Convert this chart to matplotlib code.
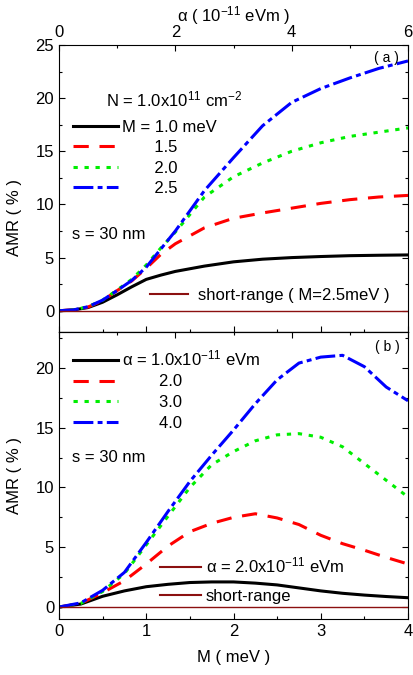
import numpy as np
import matplotlib
matplotlib.use('Agg')
import matplotlib.pyplot as plt
from matplotlib.ticker import MultipleLocator, NullFormatter
from matplotlib.lines import Line2D

#fonte parecida com Arial
plt.rcParams['font.family'] = ['Liberation Sans', 'DejaVu Sans']
plt.rcParams['mathtext.fontset'] = 'custom'
plt.rcParams['mathtext.rm'] = 'Liberation Sans'
plt.rcParams['mathtext.it'] = 'Liberation Sans:italic'
plt.rcParams['font.size'] = 12

#Painel (a): AMR x alpha para varios M
alpha_a = [0, 0.25, 0.5, 0.75, 1.0, 1.25, 1.5, 1.75, 2.0, 2.5, 3.0, 3.5, 4.0, 4.5, 5.0, 5.5, 6.0]
amr_m10 = [0, 0.08, 0.3, 0.8, 1.5, 2.25, 2.95, 3.35, 3.7, 4.2, 4.6, 4.85, 5.0, 5.1, 5.18, 5.22, 5.25]
amr_m15 = [0, 0.08, 0.35, 0.95, 1.9, 2.8, 4.0, 5.3, 6.3, 7.8, 8.7, 9.2, 9.65, 10.1, 10.45, 10.7, 10.85]
amr_m20 = [0, 0.08, 0.38, 1.0, 1.95, 2.95, 4.3, 5.9, 7.4, 10.7, 12.6, 13.9, 15.0, 15.8, 16.4, 16.8, 17.2]
amr_m25 = [0, 0.08, 0.38, 1.0, 1.9, 2.85, 4.1, 5.8, 7.5, 11.3, 14.4, 17.4, 19.6, 20.9, 21.9, 22.8, 23.5]
labels_a = ['M = 1.0 meV', '       1.5', '       2.0', '       2.5']

#Painel (b): AMR x M para varios alpha
m_b = [0, 0.25, 0.5, 0.75, 1.0, 1.25, 1.5, 1.75, 2.0, 2.25, 2.5, 2.75, 3.0, 3.25, 3.5, 3.75, 4.0]
amr_a1 = [0, 0.25, 0.9, 1.35, 1.7, 1.9, 2.05, 2.1, 2.1, 2.0, 1.85, 1.6, 1.35, 1.15, 1.0, 0.88, 0.78]
amr_a2 = [0, 0.3, 1.2, 2.2, 3.6, 5.1, 6.3, 7.0, 7.5, 7.8, 7.45, 6.9, 6.0, 5.3, 4.75, 4.15, 3.6]
amr_a3 = [0, 0.3, 1.3, 2.8, 5.2, 7.6, 10.0, 11.9, 13.0, 13.9, 14.4, 14.5, 14.2, 13.4, 12.0, 10.6, 9.2]
amr_a4 = [0, 0.35, 1.4, 2.9, 5.4, 8.0, 10.5, 12.7, 14.8, 17.0, 19.0, 20.4, 20.9, 21.05, 20.1, 18.4, 17.25]
labels_b = ['α = 1.0x10$^{-11}$ eVm', '        2.0', '        3.0', '        4.0']

#estilos das curvas
cores = ['black', '#ff0000', '#00ee00', '#0000ff']
estilos = ['-', (0, (5, 3.5)), (0, (1.4, 2.2)), (0, (6.5, 1.4, 1.6, 1.4))]
cor_curto = '#8b1010'
lw = 2.2

fig = plt.figure(figsize=(4.13, 6.75), dpi=100)
ax1 = fig.add_axes([59/413, 1-332/675, 349/413, 287/675])
ax2 = fig.add_axes([59/413, 1-619/675, 349/413, 287/675])

#Painel (a)
for y, c, ls, lab in zip([amr_m10, amr_m15, amr_m20, amr_m25], cores, estilos, labels_a):
    ax1.plot(alpha_a, y, color=c, linestyle=ls, lw=lw, label=lab)
ax1.axhline(0, color=cor_curto, lw=1.0)
ax1.set_xlim(0, 6)
ax1.set_ylim(-2, 25)
ax1.xaxis.set_label_position('top')
ax1.set_xlabel('α ( 10$^{-11}$ eVm )', labelpad=3)
ax1.set_ylabel('AMR ( % )')
ax1.yaxis.set_label_coords(-0.105, 0.40)
ax1.xaxis.set_major_locator(MultipleLocator(2))
ax1.xaxis.set_minor_locator(MultipleLocator(1))
ax1.yaxis.set_major_locator(MultipleLocator(5))
ax1.yaxis.set_minor_locator(MultipleLocator(2.5))
ax1.tick_params(which='both', direction='in', top=True, bottom=False, right=True,
                labeltop=True, labelbottom=False)
#eixo de baixo do painel (a) em unidades de M
sec1 = ax1.secondary_xaxis('bottom', functions=(lambda a: a*4/6, lambda m: m*6/4))
sec1.xaxis.set_major_locator(MultipleLocator(1))
sec1.xaxis.set_minor_locator(MultipleLocator(0.5))
sec1.xaxis.set_major_formatter(NullFormatter())
sec1.tick_params(which='both', direction='in')

leg1 = ax1.legend(loc='upper left', bbox_to_anchor=(0.04, 0.74), frameon=False,
                  handlelength=2.7, handletextpad=0.25, borderpad=0, borderaxespad=0,
                  labelspacing=0.33)
ax1.add_artist(leg1)
ax1.legend(handles=[Line2D([], [], color=cor_curto, lw=1.5)],
           labels=['short-range ( M=2.5meV )'], loc='upper left',
           bbox_to_anchor=(0.261, 0.155), frameon=False, handlelength=2.3,
           handletextpad=0.55, borderpad=0, borderaxespad=0)
ax1.text(0.135, 0.812, 'N = 1.0x10$^{11}$ cm$^{-2}$', transform=ax1.transAxes, va='center')
ax1.text(0.037, 0.338, 's = 30 nm', transform=ax1.transAxes, va='center')
ax1.text(0.975, 0.953, '( a )', transform=ax1.transAxes, va='center', ha='right', fontsize=10)

#Painel (b)
for y, c, ls, lab in zip([amr_a1, amr_a2, amr_a3, amr_a4], cores, estilos, labels_b):
    ax2.plot(m_b, y, color=c, linestyle=ls, lw=lw, label=lab)
ax2.axhline(0, color=cor_curto, lw=1.0)
ax2.set_xlim(0, 4)
ax2.set_ylim(-1, 23)
ax2.set_xlabel('M ( meV )', labelpad=8)
ax2.set_ylabel('AMR ( % )')
ax2.yaxis.set_label_coords(-0.105, 0.5)
ax2.xaxis.set_major_locator(MultipleLocator(1))
ax2.xaxis.set_minor_locator(MultipleLocator(0.5))
ax2.yaxis.set_major_locator(MultipleLocator(5))
ax2.yaxis.set_minor_locator(MultipleLocator(2.5))
ax2.tick_params(which='both', direction='in', top=False, right=True)
#eixo de cima do painel (b) em unidades de alpha
sec2 = ax2.secondary_xaxis('top', functions=(lambda m: m*6/4, lambda a: a*4/6))
sec2.xaxis.set_major_locator(MultipleLocator(2))
sec2.xaxis.set_minor_locator(MultipleLocator(1))
sec2.xaxis.set_major_formatter(NullFormatter())
sec2.tick_params(which='both', direction='in')

leg2 = ax2.legend(loc='upper left', bbox_to_anchor=(0.04, 0.942), frameon=False,
                  handlelength=2.7, handletextpad=0.25, borderpad=0, borderaxespad=0,
                  labelspacing=0.35)
ax2.add_artist(leg2)
ax2.legend(handles=[Line2D([], [], color=cor_curto, lw=1.5), Line2D([], [], color=cor_curto, lw=1.5)],
           labels=['α = 2.0x10$^{-11}$ eVm', 'short-range'], loc='upper left',
           bbox_to_anchor=(0.29, 0.22), frameon=False, handlelength=2.45,
           handletextpad=0.3, borderpad=0, borderaxespad=0, labelspacing=0.8)
ax2.text(0.037, 0.561, 's = 30 nm', transform=ax2.transAxes, va='center')
ax2.text(0.975, 0.948, '( b )', transform=ax2.transAxes, va='center', ha='right', fontsize=10)

for ax in [ax1, ax2, sec1, sec2]:
    ax.tick_params(which='major', length=4, width=0.8)
    ax.tick_params(which='minor', length=2.5, width=0.8)

fig.savefig('out.png', dpi=100)
